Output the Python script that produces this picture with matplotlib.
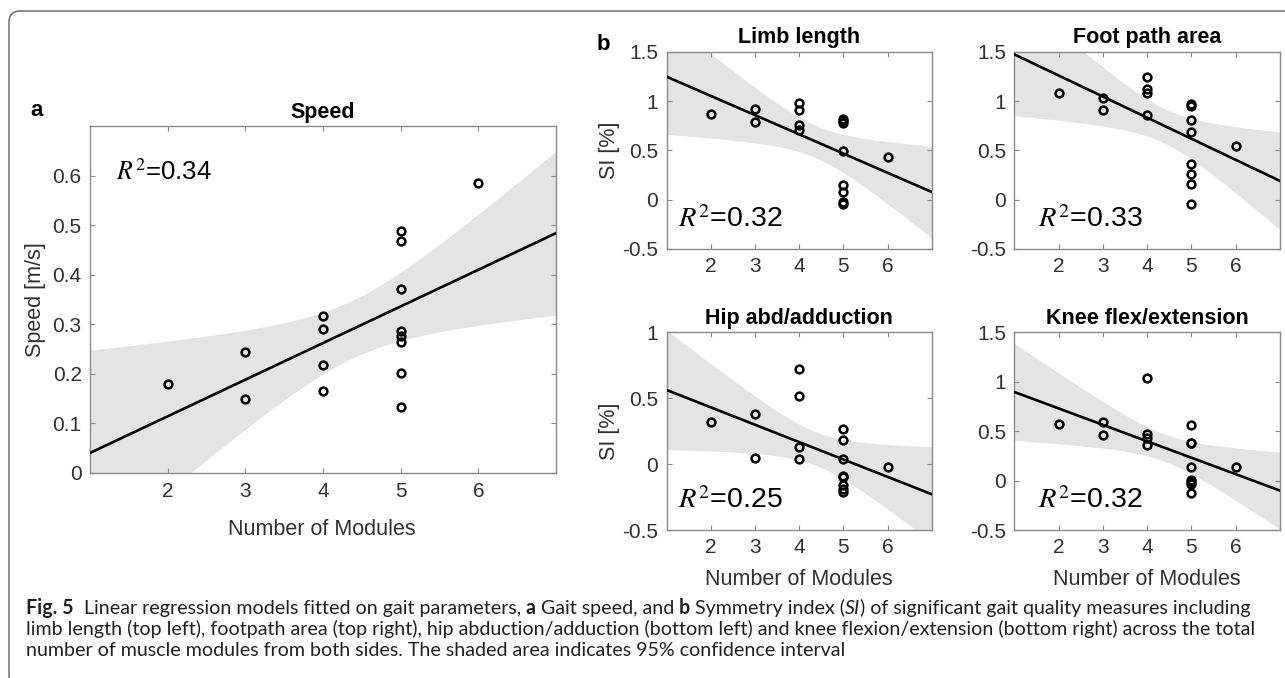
import numpy as np
import matplotlib
matplotlib.use("Agg")
import matplotlib.pyplot as plt
from matplotlib.patches import FancyBboxPatch
from matplotlib.transforms import IdentityTransform
from matplotlib.font_manager import FontProperties

# ---------------- data ----------------
modules = [2, 3, 3, 4, 4, 4, 4, 5, 5, 5, 5, 5, 5, 5, 5, 6]

speed = [0.180, 0.244, 0.148, 0.317, 0.291, 0.218, 0.164,
         0.487, 0.468, 0.371, 0.287, 0.276, 0.263, 0.201, 0.133, 0.584]

limb_length = [0.87, 0.92, 0.79, 0.98, 0.91, 0.76, 0.71,
               0.82, 0.80, 0.78, 0.49, 0.15, 0.08, -0.02, -0.04, 0.43]

foot_path = [1.08, 1.03, 0.91, 1.24, 1.12, 1.08, 0.86,
             0.97, 0.95, 0.81, 0.69, 0.36, 0.26, 0.16, -0.04, 0.54]

hip_abd = [0.32, 0.38, 0.05, 0.72, 0.52, 0.13, 0.04,
           0.27, 0.18, 0.04, -0.09, -0.10, -0.16, -0.19, -0.21, -0.02]

knee_flex = [0.57, 0.59, 0.46, 1.04, 0.47, 0.43, 0.36,
             0.56, 0.38, 0.38, 0.14, 0.01, -0.01, -0.03, -0.13, 0.14]

titles = ["Speed", "Limb length", "Foot path area", "Hip abd/adduction", "Knee flex/extension"]
r2_labels = ["0.34", "0.32", "0.33", "0.25", "0.32"]

xticks = [2, 3, 4, 5, 6]
speed_yticks = [0, 0.1, 0.2, 0.3, 0.4, 0.5, 0.6]
speed_yticklabels = ["0", "0.1", "0.2", "0.3", "0.4", "0.5", "0.6"]
si_yticks = [-0.5, 0, 0.5, 1, 1.5]
si_yticklabels = ["-0.5", "0", "0.5", "1", "1.5"]
hip_yticks = [-0.5, 0, 0.5, 1]
hip_yticklabels = ["-0.5", "0", "0.5", "1"]

# two-sided 95% t critical values by degrees of freedom
T_CRIT = {11: 2.201, 12: 2.179, 13: 2.160, 14: 2.145, 15: 2.131, 16: 2.120}

# ---------------- style ----------------
plt.rcParams["font.family"] = ["Liberation Sans", "DejaVu Sans"]
plt.rcParams["mathtext.fontset"] = "stix"
plt.rcParams["axes.unicode_minus"] = False

W, H = 1285, 678
fig = plt.figure(figsize=(W / 100, H / 100), dpi=100)
fig.patch.set_facecolor("white")

SPINE = "#8a8a8a"
LABEL = "#303030"
BAND = "#e4e4e4"


def px_axes(left, top, right, bottom):
    return fig.add_axes([left / W, 1 - bottom / H, (right - left) / W, (bottom - top) / H])


def style_axes(ax, ylim, yticks, yticklabels, xpad, ypad):
    ax.set_xlim(1, 7)
    ax.set_ylim(*ylim)
    ax.set_xticks(xticks)
    ax.set_xticklabels([str(t) for t in xticks])
    ax.set_yticks(yticks)
    ax.set_yticklabels(yticklabels)
    for s in ax.spines.values():
        s.set_color(SPINE)
        s.set_linewidth(1.0)
    ax.tick_params(direction="in", top=True, right=True, length=3.6, width=0.8,
                   color=SPINE, labelcolor=LABEL, labelsize=15)
    ax.tick_params(axis="x", pad=xpad)
    ax.tick_params(axis="y", pad=ypad)


def draw_fit(ax, x, y):
    x = np.asarray(x, float)
    y = np.asarray(y, float)
    n = len(x)
    slope, intercept = np.polyfit(x, y, 1)
    xg = np.linspace(1, 7, 300)
    yfit = intercept + slope * xg
    resid = y - (intercept + slope * x)
    s = np.sqrt(np.sum(resid ** 2) / (n - 2))
    sxx = np.sum((x - x.mean()) ** 2)
    se = s * np.sqrt(1.0 / n + (xg - x.mean()) ** 2 / sxx)
    t = T_CRIT[n - 2]
    ax.fill_between(xg, yfit - t * se, yfit + t * se, color=BAND, lw=0, zorder=1)
    ax.plot(xg, yfit, color="black", lw=1.9, zorder=3)
    ax.plot(x, y, "o", mfc="none", mec="black", ms=5.6, mew=1.8, zorder=4)


# ---------------- panel a: speed ----------------
ax_a = px_axes(90, 126, 556, 472.7)
style_axes(ax_a, (0, 0.7), speed_yticks, speed_yticklabels, 7, 6)
draw_fit(ax_a, modules, speed)
ax_a.set_title(titles[0], fontsize=15.5, fontweight="bold", pad=6)
ax_a.text(0.056, 0.845, r"$R^2$=" + r2_labels[0], transform=ax_a.transAxes,
          fontsize=18.5, color="black", va="baseline", ha="left", zorder=5)

# ---------------- panel b ----------------
b_specs = [
    ((666.7, 51.7, 931.7, 249.0), limb_length, titles[1], r2_labels[1], (-0.5, 1.5), si_yticks, si_yticklabels, 0.043),
    ((1014.3, 51.7, 1280.0, 249.0), foot_path, titles[2], r2_labels[2], (-0.5, 1.5), si_yticks, si_yticklabels, 0.089),
    ((666.7, 332.3, 931.7, 530.0), hip_abd, titles[3], r2_labels[3], (-0.5, 1.0), hip_yticks, hip_yticklabels, 0.043),
    ((1014.3, 332.3, 1280.0, 530.0), knee_flex, titles[4], r2_labels[4], (-0.5, 1.5), si_yticks, si_yticklabels, 0.089),
]
for box, vals, title, r2, ylim, yt, ytl, r2x in b_specs:
    ax = px_axes(*box)
    style_axes(ax, ylim, yt, ytl, 6, 6)
    draw_fit(ax, modules, vals)
    ax.set_title(title, fontsize=15.5, fontweight="bold", pad=6)
    ax.text(r2x, 0.11, r"$R^2$=" + r2, transform=ax.transAxes,
            fontsize=20.5, color="black", va="baseline", ha="left", zorder=5)

ID = IdentityTransform()


def ptext(x, y, s, **kw):
    return fig.text(x, H - y, s, transform=ID, **kw)


# axis labels
ptext(35, 299.5, "Speed [m/s]", rotation=90, ha="center", va="center", fontsize=15.5, color=LABEL)
ptext(610, 150.4, "SI [%]", rotation=90, ha="center", va="center", fontsize=15.5, color=LABEL)
ptext(610, 431.2, "SI [%]", rotation=90, ha="center", va="center", fontsize=15.5, color=LABEL)
ptext(322, 535, "Number of Modules", ha="center", va="baseline", fontsize=15.5, color=LABEL)
ptext(799, 585, "Number of Modules", ha="center", va="baseline", fontsize=15.5, color=LABEL)
ptext(1147, 585, "Number of Modules", ha="center", va="baseline", fontsize=15.5, color=LABEL)

# panel letters
ptext(37, 111, "a", ha="center", va="center", fontsize=16, fontweight="bold", color="black")
ptext(603, 45, "b", ha="center", va="center", fontsize=16, fontweight="bold", color="black")

# ---------------- caption ----------------
CAP_FAM = ["Lato", "DejaVu Sans"]
CAP_COLOR = "#231f20"
caption_lines = [
    [("Fig. 5", "bold", "normal"), ("  Linear regression models fitted on gait parameters, ", "normal", "normal"),
     ("a", "bold", "normal"), (" Gait speed, and ", "normal", "normal"), ("b", "bold", "normal"),
     (" Symmetry index (", "normal", "normal"), ("SI", "normal", "italic"),
     (") of significant gait quality measures including", "normal", "normal")],
    [("limb length (top left), footpath area (top right), hip abduction/adduction (bottom left) and knee "
      "flexion/extension (bottom right) across the total", "normal", "normal")],
    [("number of muscle modules from both sides. The shaded area indicates 95% confidence interval",
      "normal", "normal")],
]
caption_baselines = [614, 635, 656]

fig.canvas.draw()
renderer = fig.canvas.get_renderer()


def run_width(txt, weight, style, size):
    fp = FontProperties(family=CAP_FAM, weight=weight, style=style, size=size)
    w1, _, _ = renderer.get_text_width_height_descent("|" + txt + "|", fp, ismath=False)
    w0, _, _ = renderer.get_text_width_height_descent("||", fp, ismath=False)
    return w1 - w0


x0 = 26
base = 10.0
w2 = sum(run_width(t, wgt, sty, base) for t, wgt, sty in caption_lines[1])
cap_size = base * (1255 - x0) / w2

for runs, yb in zip(caption_lines, caption_baselines):
    x = x0
    for txt, wgt, sty in runs:
        ptext(x, yb, txt, ha="left", va="baseline", fontsize=cap_size, fontweight=wgt,
              fontstyle=sty, family=CAP_FAM, color=CAP_COLOR)
        x += run_width(txt, wgt, sty, cap_size)

# ---------------- outer frame ----------------
frame = FancyBboxPatch((9, -8), 1400, H - 11 + 8, boxstyle="round,pad=0,rounding_size=11",
                       transform=ID, fill=False, ec="#707070", lw=1.1)
fig.add_artist(frame)

fig.savefig("out.png", dpi=100, facecolor="white")
